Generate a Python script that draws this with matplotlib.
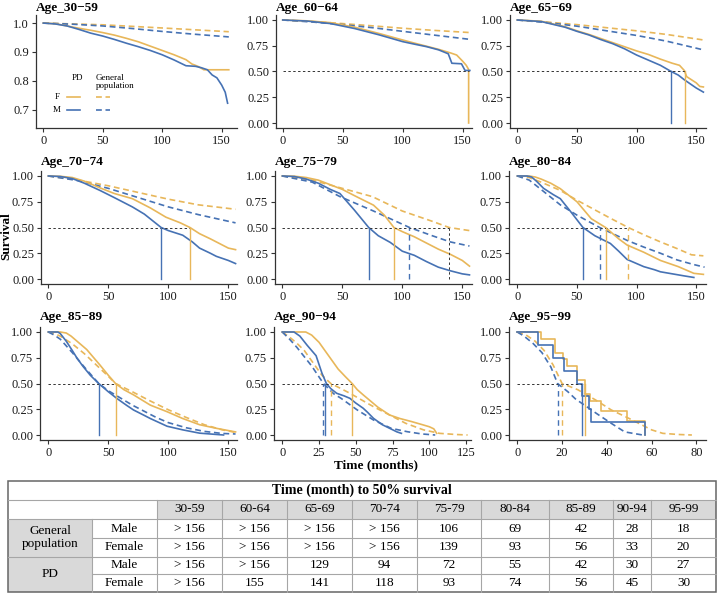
import matplotlib
matplotlib.use("Agg")
import matplotlib.pyplot as plt
from matplotlib.lines import Line2D
from matplotlib.patches import Rectangle

plt.rcParams["font.family"] = ["Liberation Serif", "DejaVu Serif"]

W, H = 718, 593
YEL = "#E8B75A"
BLU = "#4672B4"
DARK = "#333333"

# ---- survival curves (months, survival) ----
# Age 30-59
t_pd_f_1 = [0, 10, 20, 30, 40, 50, 60, 70, 80, 90, 100, 110, 120, 125, 130, 135, 156]
s_pd_f_1 = [1, 0.998, 0.99, 0.982, 0.975, 0.967, 0.958, 0.947, 0.935, 0.92, 0.905, 0.89, 0.873, 0.858, 0.85, 0.838, 0.838]
t_pd_m_1 = [0, 10, 20, 30, 40, 50, 60, 70, 80, 90, 100, 110, 120, 128, 133, 138, 142, 146, 150, 153, 155]
s_pd_m_1 = [1, 0.997, 0.99, 0.978, 0.965, 0.955, 0.943, 0.93, 0.918, 0.905, 0.89, 0.872, 0.852, 0.85, 0.845, 0.838, 0.82, 0.81, 0.785, 0.76, 0.722]
t_gp_f_1 = [0, 50, 100, 156]
s_gp_f_1 = [1, 0.994, 0.983, 0.97]
t_gp_m_1 = [0, 25, 50, 75, 100, 125, 156]
s_gp_m_1 = [1, 0.996, 0.99, 0.981, 0.971, 0.962, 0.952]

# Age 60-64
t_pd_f_2 = [0, 20, 40, 60, 80, 100, 110, 120, 130, 140, 145, 150, 153, 155, 155]
s_pd_f_2 = [1, 0.992, 0.974, 0.93, 0.87, 0.806, 0.775, 0.745, 0.715, 0.68, 0.66, 0.6, 0.56, 0.52, 0.0]
t_pd_m_2 = [0, 20, 40, 60, 80, 100, 110, 120, 130, 138, 141, 149, 152, 156]
s_pd_m_2 = [1, 0.99, 0.965, 0.917, 0.857, 0.79, 0.765, 0.741, 0.71, 0.672, 0.58, 0.575, 0.51, 0.51]
t_gp_f_2 = [0, 25, 50, 75, 100, 125, 156]
s_gp_f_2 = [1, 0.985, 0.965, 0.943, 0.92, 0.9, 0.878]
t_gp_m_2 = [0, 25, 50, 75, 100, 125, 156]
s_gp_m_2 = [1, 0.98, 0.955, 0.925, 0.89, 0.855, 0.812]

# Age 65-69
t_pd_f_3 = [0, 20, 40, 50, 60, 70, 80, 90, 100, 110, 120, 130, 136, 140, 142, 146, 150, 153, 156]
s_pd_f_3 = [1, 0.988, 0.935, 0.895, 0.86, 0.82, 0.78, 0.74, 0.7, 0.665, 0.62, 0.58, 0.56, 0.51, 0.45, 0.42, 0.39, 0.355, 0.35]
t_pd_m_3 = [0, 20, 40, 50, 60, 70, 80, 90, 100, 110, 120, 129, 135, 140, 145, 150, 156]
s_pd_m_3 = [1, 0.985, 0.93, 0.89, 0.855, 0.81, 0.77, 0.72, 0.66, 0.61, 0.56, 0.5, 0.465, 0.42, 0.38, 0.34, 0.3]
t_gp_f_3 = [0, 25, 50, 75, 100, 125, 156]
s_gp_f_3 = [1, 0.98, 0.955, 0.925, 0.895, 0.86, 0.806]
t_gp_m_3 = [0, 25, 50, 75, 100, 125, 156]
s_gp_m_3 = [1, 0.975, 0.94, 0.895, 0.85, 0.795, 0.71]

# Age 70-74
t_pd_f_4 = [0, 10, 20, 30, 43, 55, 70, 85, 98, 110, 118, 126, 135, 140, 145, 150, 156]
s_pd_f_4 = [1, 0.997, 0.985, 0.95, 0.885, 0.83, 0.78, 0.69, 0.6, 0.545, 0.5, 0.44, 0.39, 0.36, 0.33, 0.3, 0.285]
t_pd_m_4 = [0, 10, 20, 30, 43, 55, 70, 80, 94, 100, 112, 120, 126, 135, 140, 150, 156]
s_pd_m_4 = [1, 0.995, 0.975, 0.93, 0.86, 0.79, 0.7, 0.63, 0.5, 0.47, 0.425, 0.36, 0.3, 0.25, 0.22, 0.18, 0.15]
t_gp_f_4 = [0, 25, 50, 75, 100, 125, 156]
s_gp_f_4 = [1, 0.96, 0.905, 0.84, 0.775, 0.72, 0.677]
t_gp_m_4 = [0, 25, 50, 75, 100, 125, 156]
s_gp_m_4 = [1, 0.955, 0.88, 0.79, 0.7, 0.625, 0.545]

# Age 75-79
t_pd_f_5 = [0, 10, 20, 30, 40, 50, 60, 76, 85, 93, 100, 110, 120, 130, 140, 150, 156]
s_pd_f_5 = [1, 0.998, 0.985, 0.96, 0.915, 0.87, 0.81, 0.717, 0.62, 0.5, 0.46, 0.41, 0.35, 0.29, 0.24, 0.18, 0.125]
t_pd_m_5 = [0, 10, 20, 30, 40, 48, 60, 72, 80, 90, 100, 110, 120, 130, 140, 150, 156]
s_pd_m_5 = [1, 0.995, 0.97, 0.93, 0.87, 0.83, 0.67, 0.5, 0.42, 0.355, 0.27, 0.23, 0.17, 0.115, 0.08, 0.05, 0.04]
t_gp_f_5 = [0, 25, 50, 75, 100, 125, 139, 156]
s_gp_f_5 = [1, 0.96, 0.88, 0.8, 0.66, 0.56, 0.5, 0.47]
t_gp_m_5 = [0, 25, 48, 76, 106, 125, 140, 156]
s_gp_m_5 = [1, 0.94, 0.8, 0.66, 0.5, 0.42, 0.36, 0.32]

# Age 80-84
t_pd_f_6 = [0, 10, 15, 20, 28, 36, 50, 62, 74, 85, 92, 106, 120, 135, 148, 156]
s_pd_f_6 = [1, 1, 0.99, 0.97, 0.93, 0.877, 0.75, 0.585, 0.5, 0.39, 0.33, 0.26, 0.18, 0.12, 0.055, 0.045]
t_pd_m_6 = [0, 8, 12, 16, 22, 30, 36, 45, 55, 65, 78, 85, 92, 100, 106, 115, 120, 130, 140, 148]
s_pd_m_6 = [1, 1, 0.99, 0.95, 0.88, 0.82, 0.78, 0.65, 0.5, 0.42, 0.345, 0.27, 0.19, 0.15, 0.12, 0.09, 0.07, 0.05, 0.03, 0.015]
t_gp_f_6 = [0, 10, 20, 36, 50, 78, 93, 106, 120, 134, 146, 156]
s_gp_f_6 = [1, 0.985, 0.94, 0.86, 0.765, 0.59, 0.5, 0.43, 0.36, 0.295, 0.235, 0.225]
t_gp_m_6 = [0, 10, 22, 36, 50, 69, 92, 106, 120, 134, 148, 157]
s_gp_m_6 = [1, 0.96, 0.85, 0.72, 0.62, 0.5, 0.375, 0.31, 0.25, 0.185, 0.14, 0.115]

# Age 85-89
t_pd_f_7 = [0, 10, 15, 19, 25, 32, 43, 50, 56, 63, 71, 85, 99, 112, 126, 140, 156]
s_pd_f_7 = [1, 1, 0.99, 0.96, 0.9, 0.83, 0.68, 0.58, 0.5, 0.44, 0.39, 0.29, 0.226, 0.16, 0.1, 0.065, 0.03]
t_pd_m_7 = [0, 8, 10, 15, 20, 24, 29, 35, 42, 50, 57, 65, 71, 80, 85, 99, 112, 126, 146]
s_pd_m_7 = [1, 1, 0.985, 0.91, 0.82, 0.745, 0.665, 0.58, 0.5, 0.42, 0.356, 0.29, 0.243, 0.19, 0.16, 0.085, 0.05, 0.018, 0.0]
t_gp_f_7 = [0, 5, 10, 20, 30, 40, 50, 56, 70, 85, 100, 115, 130, 145, 156]
s_gp_f_7 = [1, 0.985, 0.96, 0.885, 0.79, 0.68, 0.57, 0.5, 0.42, 0.33, 0.245, 0.17, 0.1, 0.05, 0.025]
t_gp_m_7 = [0, 5, 10, 20, 30, 42, 50, 60, 70, 80, 90, 100, 115, 130, 145, 156]
s_gp_m_7 = [1, 0.97, 0.93, 0.8, 0.66, 0.5, 0.43, 0.36, 0.29, 0.23, 0.17, 0.12, 0.07, 0.035, 0.015, 0.01]

# Age 90-94
t_pd_f_8 = [0, 8, 16, 20, 25, 30, 34, 38, 43, 47.5, 51, 55, 60, 65, 73, 80, 88, 96, 100, 103, 105]
s_pd_f_8 = [1, 1, 1, 0.97, 0.9, 0.8, 0.72, 0.64, 0.565, 0.5, 0.44, 0.39, 0.33, 0.27, 0.194, 0.16, 0.13, 0.097, 0.08, 0.06, 0.016]
t_pd_m_8 = [0, 8, 12, 17, 23, 27, 30, 33, 37, 42, 46, 50, 55, 58, 62, 68, 73, 78, 81]
s_pd_m_8 = [1, 1, 0.96, 0.87, 0.77, 0.6, 0.5, 0.45, 0.405, 0.38, 0.356, 0.31, 0.26, 0.22, 0.162, 0.1, 0.065, 0.03, 0.016]
t_gp_f_8 = [0, 5, 10, 15, 20, 27, 33, 40, 46, 54, 62, 73, 84, 96, 107, 118, 126]
s_gp_f_8 = [1, 0.95, 0.89, 0.82, 0.72, 0.58, 0.5, 0.45, 0.405, 0.34, 0.275, 0.194, 0.113, 0.05, 0.016, 0.005, 0.0]
t_gp_m_8 = [0, 5, 10, 15, 20, 28, 35, 40, 51, 62, 74, 85, 95, 104]
s_gp_m_8 = [1, 0.93, 0.85, 0.76, 0.67, 0.5, 0.4, 0.356, 0.243, 0.146, 0.065, 0.032, 0.01, 0.0]

# Age 95-99 (few patients: step curves)
t_pd_f_9 = [0, 10.8, 17, 20.4, 22.3, 26.8, 30.4, 32.3, 37.3, 49.2, 56.9]
s_pd_f_9 = [1, 0.933, 0.8, 0.733, 0.667, 0.533, 0.4, 0.333, 0.233, 0.133, 0.0]
t_pd_m_9 = [0, 9.25, 15.9, 20.9, 26.7, 28.9, 32.1, 33.1, 56.9]
s_pd_m_9 = [1, 0.875, 0.75, 0.625, 0.5, 0.375, 0.25, 0.125, 0.0]
t_gp_f_9 = [0, 4, 8, 12, 16, 20, 27, 35, 42, 50, 60, 65, 72, 78]
s_gp_f_9 = [1, 0.97, 0.91, 0.82, 0.68, 0.5, 0.44, 0.34, 0.243, 0.16, 0.05, 0.016, 0.005, 0.0]
t_gp_m_9 = [0, 3, 7, 11, 15, 18, 22.6, 26, 30, 36, 42, 48, 56]
s_gp_m_9 = [1, 0.96, 0.89, 0.8, 0.66, 0.5, 0.42, 0.35, 0.29, 0.2, 0.113, 0.03, 0.0]

titles = ["Age_30\u221259", "Age_60\u221264", "Age_65\u221269", "Age_70\u221274", "Age_75\u221279",
          "Age_80\u221284", "Age_85\u221289", "Age_90\u221294", "Age_95\u221299"]

# median lines as drawn in each panel
med_pd_m = [None, None, 129, 94, 72, 55, 42, 29, 28.9]
med_pd_f = [None, None, 141, 118, 93, 74, 56, 47.5, 30.4]
med_gp_m = [None, None, None, None, 106, 69, None, 28, 18]
med_gp_f = [None, None, None, None, 139, 93, None, 33, 20]
gp_f_line_col = [YEL, YEL, YEL, YEL, DARK, YEL, YEL, YEL, YEL]
hline_end = [None, 155, 141, 118, 139, 93, 56, 47.5, 30.4]

# table
age_groups = ["30-59", "60-64", "65-69", "70-74", "75-79", "80-84", "85-89", "90-94", "95-99"]
gp_male = ["> 156", "> 156", "> 156", "> 156", "106", "69", "42", "28", "18"]
gp_female = ["> 156", "> 156", "> 156", "> 156", "139", "93", "56", "33", "20"]
pd_male = ["> 156", "> 156", "129", "94", "72", "55", "42", "30", "27"]
pd_female = ["> 156", "155", "141", "118", "93", "74", "56", "45", "30"]

# ---- layout (pixels) ----
rects = [(36, 15, 237, 128), (276, 15, 472, 128), (510, 15, 706, 128),
         (41, 171, 237, 284), (275, 171, 472, 284), (509, 171, 706, 284),
         (40, 327, 237, 440), (274, 327, 471, 440), (509, 327, 706, 440)]
xlims = [(-6.1, 162.9), (-5.6, 157.8), (-6.1, 158.2),
         (-6.1, 157.2), (-6.1, 158.1), (-7.0, 158.2),
         (-6.9, 157.2), (-5.6, 128.3), (-3.7, 84.3)]
title_y = [8, 8, 8, 162, 162, 162, 317, 317, 317]

curves = [
    (t_pd_f_1, s_pd_f_1, t_pd_m_1, s_pd_m_1, t_gp_f_1, s_gp_f_1, t_gp_m_1, s_gp_m_1),
    (t_pd_f_2, s_pd_f_2, t_pd_m_2, s_pd_m_2, t_gp_f_2, s_gp_f_2, t_gp_m_2, s_gp_m_2),
    (t_pd_f_3, s_pd_f_3, t_pd_m_3, s_pd_m_3, t_gp_f_3, s_gp_f_3, t_gp_m_3, s_gp_m_3),
    (t_pd_f_4, s_pd_f_4, t_pd_m_4, s_pd_m_4, t_gp_f_4, s_gp_f_4, t_gp_m_4, s_gp_m_4),
    (t_pd_f_5, s_pd_f_5, t_pd_m_5, s_pd_m_5, t_gp_f_5, s_gp_f_5, t_gp_m_5, s_gp_m_5),
    (t_pd_f_6, s_pd_f_6, t_pd_m_6, s_pd_m_6, t_gp_f_6, s_gp_f_6, t_gp_m_6, s_gp_m_6),
    (t_pd_f_7, s_pd_f_7, t_pd_m_7, s_pd_m_7, t_gp_f_7, s_gp_f_7, t_gp_m_7, s_gp_m_7),
    (t_pd_f_8, s_pd_f_8, t_pd_m_8, s_pd_m_8, t_gp_f_8, s_gp_f_8, t_gp_m_8, s_gp_m_8),
    (t_pd_f_9, s_pd_f_9, t_pd_m_9, s_pd_m_9, t_gp_f_9, s_gp_f_9, t_gp_m_9, s_gp_m_9),
]


def px_rect(l, t, r, b):
    return [l / W, 1 - b / H, (r - l) / W, (b - t) / H]


fig = plt.figure(figsize=(W / 100, H / 100), dpi=100)
DASH = (3.5, 2.2)

for i, (tf, sf, tm, sm, tgf, sgf, tgm, sgm) in enumerate(curves):
    l, t, r, b = rects[i]
    ax = fig.add_axes(px_rect(l, t, r, b))
    ax.plot(tgf, sgf, color=YEL, lw=1.2, dashes=DASH)
    ax.plot(tgm, sgm, color=BLU, lw=1.2, dashes=DASH)
    if i == 8:
        ax.step(tf, sf, where="post", color=YEL, lw=1.2)
        ax.step(tm, sm, where="post", color=BLU, lw=1.2)
    else:
        ax.plot(tf, sf, color=YEL, lw=1.2)
        ax.plot(tm, sm, color=BLU, lw=1.2)

    if hline_end[i] is not None:
        ax.plot([0, hline_end[i]], [0.5, 0.5], color=DARK, lw=0.7, dashes=(2.5, 2.5))
    for med, col, ls in [(med_pd_m[i], BLU, "-"), (med_pd_f[i], YEL, "-"),
                         (med_gp_m[i], BLU, "--"), (med_gp_f[i], gp_f_line_col[i], "--")]:
        if med is None:
            continue
        if ls == "-":
            ax.plot([med, med], [0, 0.5], color=col, lw=1.0)
        elif col == DARK:
            ax.plot([med, med], [0, 0.5], color=col, lw=0.7, dashes=(2.5, 2.5))
        else:
            ax.plot([med, med], [0, 0.5], color=col, lw=1.0, dashes=(4, 3))

    ax.set_xlim(*xlims[i])
    if i == 0:
        ax.set_ylim(0.636, 1.028)
        ax.set_yticks([0.7, 0.8, 0.9, 1.0])
        ax.set_yticklabels(["0.7", "0.8", "0.9", "1.0"])
    else:
        ax.set_ylim(-0.0485, 1.0485)
        ax.set_yticks([0, 0.25, 0.5, 0.75, 1.0])
        ax.set_yticklabels(["0.00", "0.25", "0.50", "0.75", "1.00"])
    if i == 7:
        ax.set_xticks([0, 25, 50, 75, 100, 125])
    elif i == 8:
        ax.set_xticks([0, 20, 40, 60, 80])
    else:
        ax.set_xticks([0, 50, 100, 150])
    for side in ["top", "right"]:
        ax.spines[side].set_visible(False)
    for side in ["left", "bottom"]:
        ax.spines[side].set_color(DARK)
        ax.spines[side].set_linewidth(0.9)
    ax.tick_params(length=3, width=0.8, pad=2, labelsize=9, color=DARK, labelcolor="#1a1a1a")
    fig.text(l / W, 1 - title_y[i] / H, titles[i], ha="left", va="center",
             fontsize=9.5, fontweight="bold")

# legend inside first panel
fig.text(78 / W, 1 - 78 / H, "PD", ha="center", va="center", fontsize=6.5)
fig.text(96 / W, 1 - 82 / H, "General\npopulation", ha="left", va="center", fontsize=6.5, linespacing=1.0)
fig.text(57 / W, 1 - 97 / H, "F", ha="center", va="center", fontsize=6.5)
fig.text(57 / W, 1 - 110 / H, "M", ha="center", va="center", fontsize=6.5)
for yy, col in [(97, YEL), (110, BLU)]:
    fig.add_artist(Line2D([67 / W, 80 / W], [1 - yy / H] * 2, color=col, lw=1.2))
    fig.add_artist(Line2D([96 / W, 110 / W], [1 - yy / H] * 2, color=col, lw=1.2, dashes=DASH))

fig.text(6.5 / W, 1 - 236 / H, "Survival", rotation=90, ha="center", va="center",
         fontsize=9.5, fontweight="bold")
fig.text(376 / W, 1 - 465 / H, "Time (months)", ha="center", va="center",
         fontsize=9.5, fontweight="bold")

# ---- table drawn in pixel coordinates ----
tab = fig.add_axes([0, 0, 1, 1])
tab.set_xlim(0, W)
tab.set_ylim(H, 0)
tab.axis("off")
tab.patch.set_alpha(0)

cols = [8, 92, 157, 222, 287, 352, 417, 481, 549, 613, 651, 716]
rows = [481, 500, 519, 538, 556.5, 574, 592]
GRAY = "#d9d9d9"
LINE = "#a6a6a6"

for j in range(9):
    tab.add_patch(Rectangle((cols[j + 2], rows[1]), cols[j + 3] - cols[j + 2], rows[2] - rows[1],
                            facecolor=GRAY, edgecolor="none"))
tab.add_patch(Rectangle((cols[0], rows[2]), cols[1] - cols[0], rows[6] - rows[2],
                        facecolor=GRAY, edgecolor="none"))

# horizontal lines
tab.plot([cols[0], cols[-1]], [rows[1]] * 2, color=LINE, lw=0.8)
tab.plot([cols[0], cols[-1]], [rows[2]] * 2, color=LINE, lw=0.8)
tab.plot([cols[1], cols[-1]], [rows[3]] * 2, color=LINE, lw=0.8)
tab.plot([cols[0], cols[-1]], [rows[4]] * 2, color=LINE, lw=0.8)
tab.plot([cols[1], cols[-1]], [rows[5]] * 2, color=LINE, lw=0.8)
# vertical lines
tab.plot([cols[1]] * 2, [rows[2], rows[6]], color=LINE, lw=0.8)
for x in cols[2:-1]:
    tab.plot([x] * 2, [rows[1], rows[6]], color=LINE, lw=0.8)
tab.add_patch(Rectangle((cols[0], rows[0]), cols[-1] - cols[0], rows[6] - rows[0],
                        facecolor="none", edgecolor="#666666", lw=1.1))

tab.text((cols[0] + cols[-1]) / 2, (rows[0] + rows[1]) / 2, "Time (month) to 50% survival",
         ha="center", va="center", fontsize=10, fontweight="bold")
for j, g in enumerate(age_groups):
    cx = (cols[j + 2] + cols[j + 3]) / 2
    tab.text(cx, (rows[1] + rows[2]) / 2, g, ha="center", va="center", fontsize=9.5)
    for k, vals in enumerate([gp_male, gp_female, pd_male, pd_female]):
        tab.text(cx, (rows[k + 2] + rows[k + 3]) / 2, vals[j], ha="center", va="center", fontsize=9.5)

c0 = (cols[0] + cols[1]) / 2
c1 = (cols[1] + cols[2]) / 2
tab.text(c0, (rows[2] + rows[4]) / 2, "General\npopulation", ha="center", va="center",
         fontsize=9.5, linespacing=1.15)
tab.text(c0, (rows[4] + rows[6]) / 2, "PD", ha="center", va="center", fontsize=9.5)
for k, lab in enumerate(["Male", "Female", "Male", "Female"]):
    tab.text(c1, (rows[k + 2] + rows[k + 3]) / 2, lab, ha="center", va="center", fontsize=9.5)

fig.savefig("out.png", dpi=100)
